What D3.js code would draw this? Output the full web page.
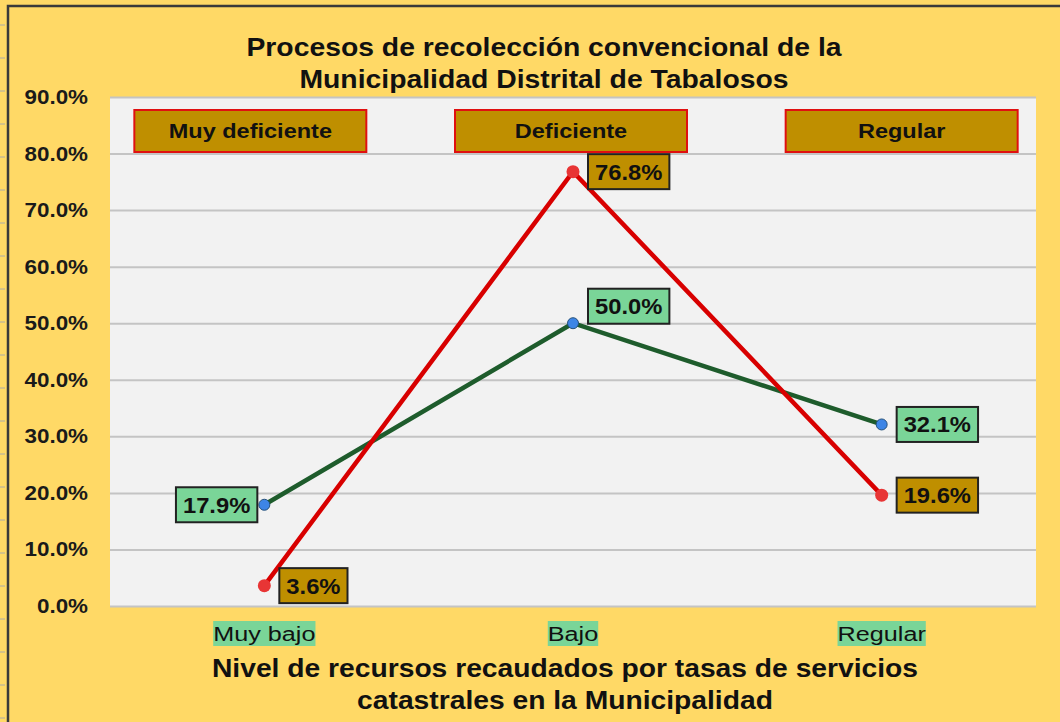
<!DOCTYPE html>
<html>
<head>
<meta charset="utf-8">
<script src="https://cdn.jsdelivr.net/npm/d3@7"></script>
<style>
  body { margin: 0; background: #fff; }
  text { font-family: "Liberation Sans", Arial, sans-serif; }
</style>
</head>
<body>
<div id="chart"></div>
<script>
// data
let categories = ["Muy bajo", "Bajo", "Regular"];
let recursos = [17.9, 50.0, 32.1];        // verde
let procesos = [3.6, 76.8, 19.6];         // rojo
let headers = ["Muy deficiente", "Deficiente", "Regular"];
let yTicks = [0, 10, 20, 30, 40, 50, 60, 70, 80, 90];

let W = 1060, H = 722;
let plot = { left: 110, right: 1036, top: 97, bottom: 606 };

let svg = d3.select("#chart").append("svg")
    .attr("width", W)
    .attr("height", H);

// texto un poco ensanchado (como en la imagen original)
function stretch(sel, px, py, s) {
    sel.attr("x", 0).attr("y", 0)
        .attr("transform", "translate(" + px + "," + py + ") scale(" + s + ",1)");
    return sel;
}

// fondo amarillo
svg.append("rect")
    .attr("x", 0).attr("y", 0)
    .attr("width", W).attr("height", H)
    .attr("fill", "#FFD966");

// marco externo (arriba / izquierda)
svg.append("path")
    .attr("d", "M8," + H + " V6 H" + W)
    .attr("fill", "none")
    .attr("stroke", "#3a3a3a")
    .attr("stroke-width", 2.5);

// marcas de hoja de calculo a la izquierda
svg.selectAll(".rowtick")
    .data(d3.range(25, H, 33))
    .enter().append("line")
    .attr("x1", 0).attr("x2", 5)
    .attr("y1", d => d).attr("y2", d => d)
    .attr("stroke", "#aaa");

// scales
let x = d3.scaleBand()
    .domain(categories)
    .range([plot.left, plot.right]);

let y = d3.scaleLinear()
    .domain([0, 90])
    .range([plot.bottom, plot.top]);

let cx = d => x(d) + x.bandwidth() / 2;

// area del grafico
svg.append("rect")
    .attr("x", plot.left).attr("y", plot.top)
    .attr("width", plot.right - plot.left)
    .attr("height", plot.bottom - plot.top)
    .attr("fill", "#F2F2F2");

// lineas de cuadricula
svg.append("g")
    .attr("transform", "translate(" + plot.left + ",0)")
    .call(d3.axisLeft(y).tickValues(yTicks).tickSize(-(plot.right - plot.left)).tickFormat(""))
    .call(g => g.select(".domain").remove())
    .call(g => g.selectAll("line").attr("stroke", "#C4C4C4").attr("stroke-width", 2));

// etiquetas eje Y
yTicks.forEach(function(d) {
    stretch(svg.append("text"), 88, y(d) + 7, 1.12)
        .attr("text-anchor", "end")
        .style("font-size", "20px")
        .style("font-weight", "bold")
        .attr("fill", "#1a1a1a")
        .text(d.toFixed(1) + "%");
});

// titulo
let title = ["Procesos de recolección convencional de la", "Municipalidad Distrital de Tabalosos"];
title.forEach(function(d, i) {
    stretch(svg.append("text"), 544, 56 + i * 32, 1.09)
        .attr("text-anchor", "middle")
        .style("font-size", "26px")
        .style("font-weight", "bold")
        .attr("fill", "#111")
        .text(d);
});

// cajas de cabecera
let headerShift = [-14, -2, 20];
let hg = svg.selectAll(".header")
    .data(headers)
    .enter().append("g")
    .attr("transform", (d, i) => "translate(" + (cx(categories[i]) + headerShift[i]) + ",131)");

hg.append("rect")
    .attr("x", -116).attr("y", -21)
    .attr("width", 232).attr("height", 42)
    .attr("fill", "#BF8F00")
    .attr("stroke", "#E01010")
    .attr("stroke-width", 2);

hg.append("text")
    .attr("transform", "translate(0,7) scale(1.12,1)")
    .attr("text-anchor", "middle")
    .style("font-size", "21px")
    .style("font-weight", "bold")
    .attr("fill", "#111")
    .text(d => d);

// lineas
let line = d3.line()
    .x((d, i) => cx(categories[i]))
    .y(d => y(d));

svg.append("path")
    .datum(recursos)
    .attr("d", line)
    .attr("fill", "none")
    .attr("stroke", "#1E5C2C")
    .attr("stroke-width", 4.5);

svg.append("path")
    .datum(procesos)
    .attr("d", line)
    .attr("fill", "none")
    .attr("stroke", "#D80000")
    .attr("stroke-width", 4.5);

// marcadores
svg.selectAll(".mg")
    .data(recursos)
    .enter().append("circle")
    .attr("cx", (d, i) => cx(categories[i]))
    .attr("cy", d => y(d))
    .attr("r", 5.5)
    .attr("fill", "#3D85E6")
    .attr("stroke", "#24507a")
    .attr("stroke-width", 1);

svg.selectAll(".mr")
    .data(procesos)
    .enter().append("circle")
    .attr("cx", (d, i) => cx(categories[i]))
    .attr("cy", d => y(d))
    .attr("r", 6.5)
    .attr("fill", "#E83535");

// etiquetas de datos
// side: -1 izquierda, 1 derecha ; dy: desplazamiento vertical
function dataLabels(values, fill, side, dy) {
    values.forEach(function(v, i) {
        let px = cx(categories[i]), py = y(v) + dy[i];
        let t = svg.append("text")
            .style("font-size", "22px")
            .style("font-weight", "bold")
            .attr("fill", "#111")
            .text(v.toFixed(1) + "%");
        let tw = t.node().getComputedTextLength() * 1.08;
        let w = tw + 14;
        let bx = side[i] < 0 ? px - 7 - w : px + 15;
        svg.insert("rect", function() { return t.node(); })
            .attr("x", bx).attr("y", py - 17.5)
            .attr("width", w).attr("height", 35)
            .attr("fill", fill)
            .attr("stroke", "#222")
            .attr("stroke-width", 2);
        stretch(t, bx + 7, py + 8, 1.08);
    });
}
dataLabels(recursos, "#7AD598", [-1, 1, 1], [0, -17, 0]);
dataLabels(procesos, "#BF8F00", [1, 1, 1], [0, 0, 0]);

// etiquetas categorias
categories.forEach(function(c) {
    let t = svg.append("text")
        .attr("text-anchor", "middle")
        .style("font-size", "21px")
        .attr("fill", "#111")
        .text(c);
    let w = t.node().getComputedTextLength() * 1.2;
    svg.insert("rect", function() { return t.node(); })
        .attr("x", cx(c) - w / 2).attr("y", 621)
        .attr("width", w).attr("height", 25)
        .attr("fill", "#7AD598");
    stretch(t, cx(c), 641, 1.2);
});

// titulo eje X
let xTitle = ["Nivel de recursos recaudados por tasas de servicios", "catastrales en la Municipalidad"];
xTitle.forEach(function(d, i) {
    stretch(svg.append("text"), 565, 677 + i * 32, 1.13)
        .attr("text-anchor", "middle")
        .style("font-size", "25px")
        .style("font-weight", "bold")
        .attr("fill", "#111")
        .text(d);
});
</script>
</body>
</html>
